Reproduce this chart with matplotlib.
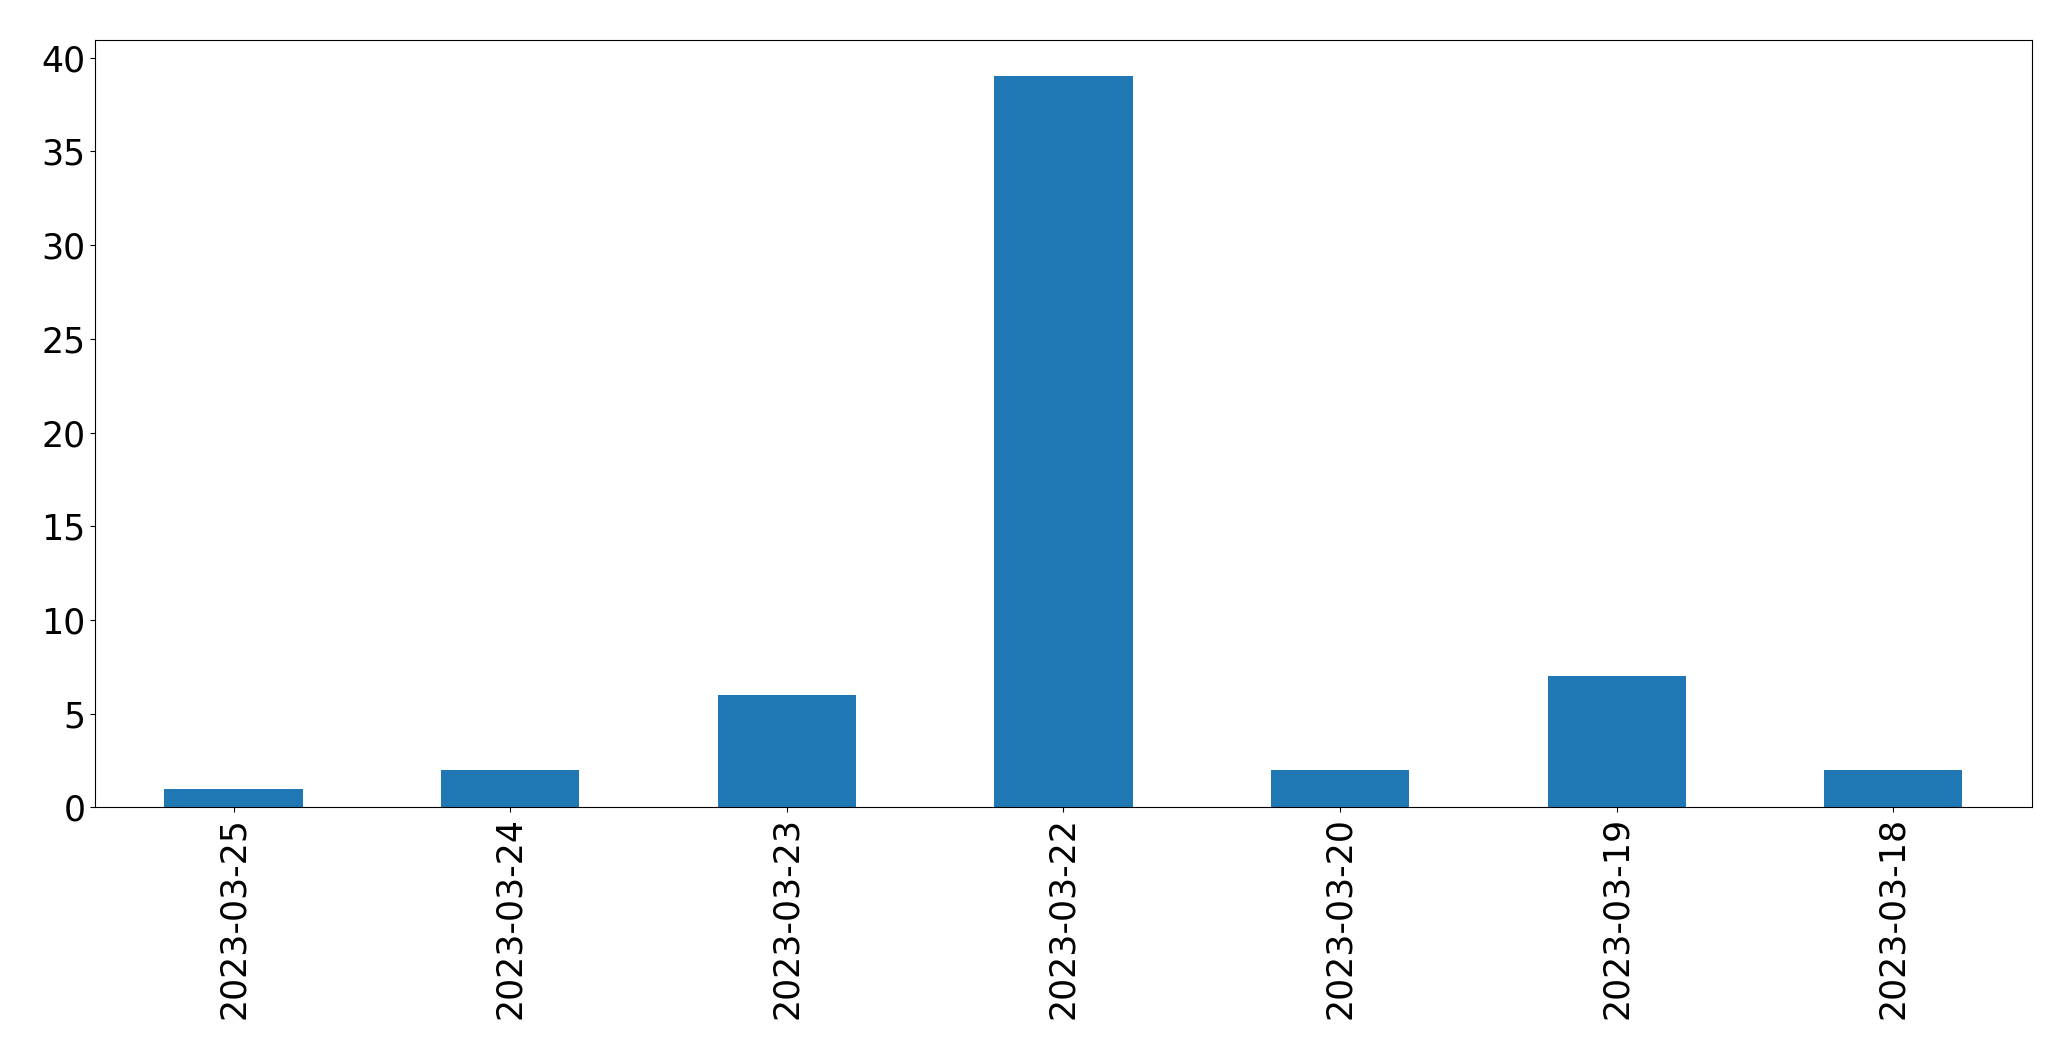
import matplotlib
matplotlib.use("Agg")
import matplotlib.pyplot as plt

dates = ["2023-03-25", "2023-03-24", "2023-03-23", "2023-03-22",
         "2023-03-20", "2023-03-19", "2023-03-18"]
counts = [1, 2, 6, 39, 2, 7, 2]

fig = plt.figure(figsize=(20.71, 10.61), dpi=100)
ax = fig.add_axes([0.046, 0.239, 0.935, 0.7235])
x = list(range(len(dates)))
ax.bar(x, counts, width=0.5, color="#1f77b4")
ax.set_xlim(-0.5, len(dates) - 0.5)
ax.set_xticks(x)
ax.set_xticklabels(dates, rotation=90, fontsize=25)
ax.tick_params(axis="y", labelsize=25)
ax.set_yticks([0, 5, 10, 15, 20, 25, 30, 35, 40])
fig.savefig("out.png", dpi=100)
